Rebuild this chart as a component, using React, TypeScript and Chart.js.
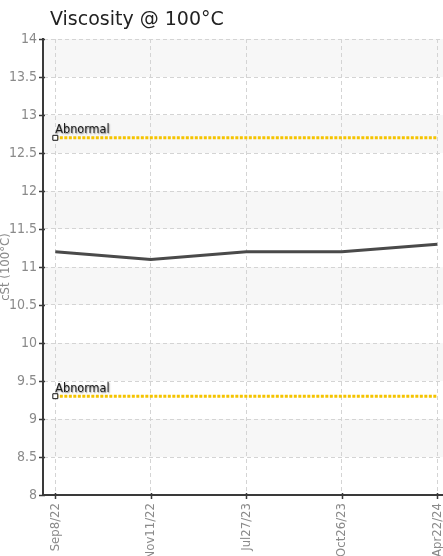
import React, { useEffect, useRef } from "react";
import { Chart, registerables } from "chart.js";

Chart.register(...registerables);

const chartTitle = "Viscosity @ 100°C";
const yAxisTitle = "cSt (100°C)";
const limitLabel = "Abnormal";
const categories = ["Sep8/22", "Nov11/22", "Jul27/23", "Oct26/23", "Apr22/24"];
const viscosity = [11.2, 11.1, 11.2, 11.2, 11.3];
const abnormalHigh = [12.7, 12.7, 12.7, 12.7, 12.7];
const abnormalLow = [9.3, 9.3, 9.3, 9.3, 9.3];
const yMin = 8;
const yMax = 14;
const yStep = 0.5;

const W = 443;
const H = 556;
const NARROW = "'Liberation Sans Narrow', 'DejaVu Sans Condensed', 'Arial Narrow', sans-serif";
const COND = "'DejaVu Sans Condensed', 'Liberation Sans Narrow', sans-serif";

const toPoints = (vals: number[]) => vals.map((y, i) => ({ x: i, y }));

const decorPlugin = {
  id: "decor",
  beforeDraw(chart: any) {
    const { ctx, chartArea, scales } = chart;
    const y = scales.y;
    ctx.save();
    ctx.fillStyle = "#f7f7f7";
    for (let v = yMin + yStep; v < yMax; v += 2 * yStep) {
      const top = y.getPixelForValue(v + yStep);
      const bot = y.getPixelForValue(v);
      ctx.fillRect(chartArea.left, top, chartArea.right - chartArea.left, bot - top);
    }
    ctx.restore();
  },
  afterDraw(chart: any) {
    const { ctx, chartArea, scales } = chart;
    const x = scales.x;
    const y = scales.y;
    ctx.save();
    // tick marks
    ctx.strokeStyle = "#3a3a3a";
    ctx.lineWidth = 1.5;
    ctx.beginPath();
    y.ticks.forEach((t: any) => {
      const py = Math.round(y.getPixelForValue(t.value)) + 0.5;
      ctx.moveTo(chartArea.left - 4, py);
      ctx.lineTo(chartArea.left + 2, py);
    });
    x.ticks.forEach((t: any) => {
      const px = Math.round(x.getPixelForValue(t.value)) + 0.5;
      ctx.moveTo(px, chartArea.bottom - 2);
      ctx.lineTo(px, chartArea.bottom + 4);
    });
    ctx.stroke();

    // limit labels
    ctx.font = `12.5px ${COND}`;
    ctx.textAlign = "left";
    ctx.textBaseline = "alphabetic";
    [abnormalHigh, abnormalLow].forEach((arr) => {
      const px = x.getPixelForValue(0);
      const py = y.getPixelForValue(arr[0]);
      ctx.shadowColor = "rgba(0,0,0,0.5)";
      ctx.shadowBlur = 1.5;
      ctx.shadowOffsetX = 0.8;
      ctx.shadowOffsetY = 0.8;
      ctx.fillStyle = "#1a1a1a";
      ctx.fillText(limitLabel, px, py - 4.5);
    });
    ctx.shadowColor = "transparent";
    ctx.shadowBlur = 0;
    ctx.shadowOffsetX = 0;
    ctx.shadowOffsetY = 0;

    // y axis title
    ctx.save();
    ctx.translate(6, (chartArea.top + chartArea.bottom) / 2);
    ctx.rotate(-Math.PI / 2);
    ctx.font = `13px ${NARROW}`;
    ctx.fillStyle = "#8a8a8a";
    ctx.textAlign = "center";
    ctx.textBaseline = "middle";
    ctx.fillText(yAxisTitle, 0, 0);
    ctx.restore();

    // chart title
    ctx.font = "19px 'DejaVu Sans', Verdana, sans-serif";
    ctx.fillStyle = "#222222";
    ctx.textAlign = "left";
    ctx.textBaseline = "alphabetic";
    ctx.fillText(chartTitle, 50, 25);
    ctx.restore();
  },
};

export default function App() {
  const ref = useRef<HTMLCanvasElement | null>(null);

  useEffect(() => {
    if (!ref.current) return;
    const limitDataset = (vals: number[]) => ({
      data: toPoints(vals),
      borderColor: "#f5c400",
      borderWidth: 3,
      borderDash: [3, 1.5],
      pointRadius: vals.map((_, i) => (i === 0 ? 3.5 : 0)),
      pointHoverRadius: 0,
      pointStyle: "rect",
      pointBackgroundColor: "#ffffff",
      pointBorderColor: "#111111",
      pointBorderWidth: 1,
      fill: false,
      tension: 0,
    });
    const chart = new Chart(ref.current, {
      type: "line",
      data: {
        datasets: [
          {
            data: toPoints(viscosity),
            borderColor: "#4a4a4a",
            borderWidth: 3,
            pointRadius: 0,
            fill: false,
            tension: 0,
          },
          limitDataset(abnormalHigh) as any,
          limitDataset(abnormalLow) as any,
        ],
      },
      options: {
        animation: false,
        responsive: false,
        devicePixelRatio: 1,
        layout: { autoPadding: false, padding: { top: 39, left: 0, right: 0, bottom: 0 } },
        plugins: {
          legend: { display: false },
          title: { display: false },
          tooltip: { enabled: false },
        },
        scales: {
          x: {
            type: "linear",
            min: -0.129,
            max: 4.06,
            afterBuildTicks: (scale: any) => {
              scale.ticks = categories.map((_, i) => ({ value: i }));
            },
            afterFit: (scale: any) => {
              scale.height = 61;
              scale.paddingLeft = 0;
              scale.paddingRight = 0;
            },
            ticks: {
              autoSkip: false,
              minRotation: 90,
              maxRotation: 90,
              padding: 8,
              color: "#8a8a8a",
              font: { family: NARROW, size: 13 },
              callback: (v: any) => categories[v as number] ?? "",
            },
            grid: {
              color: "#d4d4d4",
              lineWidth: 1,
              drawTicks: false,
            },
            border: { display: true, color: "#3a3a3a", width: 2, dash: [4, 3] } as any,
          },
          y: {
            min: yMin,
            max: yMax,
            afterFit: (scale: any) => {
              scale.width = 43;
              scale.paddingTop = 0;
              scale.paddingBottom = 0;
            },
            ticks: {
              stepSize: yStep,
              padding: 6,
              color: "#8a8a8a",
              font: { family: NARROW, size: 14 },
              callback: (v: any) => String(v),
            },
            grid: {
              color: "#d4d4d4",
              lineWidth: 1,
              drawTicks: false,
            },
            border: { display: true, color: "#3a3a3a", width: 2, dash: [4, 3] } as any,
          },
        },
      } as any,
      plugins: [decorPlugin],
    });
    return () => chart.destroy();
  }, []);

  return (
    <div style={{ position: "fixed", left: 0, top: 0, width: W, height: H, background: "#ffffff" }}>
      <canvas ref={ref} width={W} height={H} style={{ display: "block", width: W, height: H }} />
    </div>
  );
}
